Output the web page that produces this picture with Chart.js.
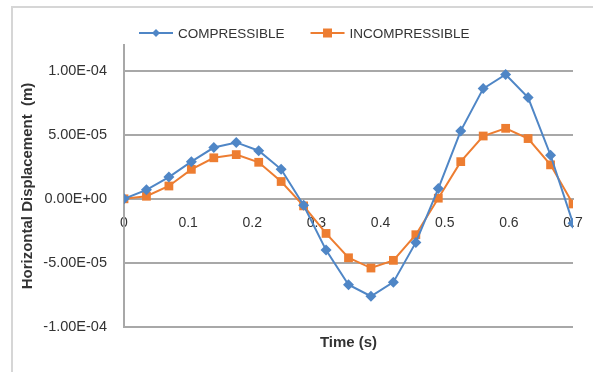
<!DOCTYPE html>
<html>
<head>
<meta charset="utf-8">
<script src="https://cdn.jsdelivr.net/npm/chart.js"></script>
<style>
  html, body { margin: 0; padding: 0; background: #fff; overflow: hidden; }
  #wrap { position: relative; width: 593px; height: 372px; }
  #frame { position: absolute; left: 11px; top: 6px; width: 700px; height: 500px; border: 2px solid #d6d6d6; box-sizing: border-box; }
  #chart { position: absolute; left: 0; top: 0; }
</style>
</head>
<body>
<div id="wrap">
  <div id="frame"></div>
  <canvas id="chart" width="593" height="372"></canvas>
</div>
<script>
// Time (s)
var times = [0, 0.035, 0.07, 0.105, 0.14, 0.175, 0.21, 0.245, 0.28, 0.315, 0.35,
             0.385, 0.42, 0.455, 0.49, 0.525, 0.56, 0.595, 0.63, 0.665, 0.7];
// Horizontal displacement (m)
var compressible = [0, 0.7e-5, 1.7e-5, 2.9e-5, 4.0e-5, 4.4e-5, 3.75e-5, 2.3e-5, -0.5e-5, -4.0e-5, -6.7e-5,
                    -7.6e-5, -6.5e-5, -3.4e-5, 0.8e-5, 5.3e-5, 8.6e-5, 9.7e-5, 7.9e-5, 3.4e-5, -1.9e-5];
var incompressible = [0, 0.2e-5, 1.0e-5, 2.3e-5, 3.2e-5, 3.45e-5, 2.85e-5, 1.35e-5, -0.55e-5, -2.7e-5, -4.6e-5,
                      -5.4e-5, -4.8e-5, -2.8e-5, 0.05e-5, 2.9e-5, 4.9e-5, 5.5e-5, 4.7e-5, 2.65e-5, -0.4e-5];

var xTicks = [0, 0.1, 0.2, 0.3, 0.4, 0.5, 0.6, 0.7];
var yTicks = [-1e-4, -5e-5, 0, 5e-5, 1e-4];

var BLUE = '#4f86c6';
var ORANGE = '#ed7d31';
var GRID = '#a8a8a8';
var TEXT = '#333333';
var FONT = "'Liberation Sans', Arial, sans-serif";

function sci(v) {
    if (v === 0) return '0.00E+00';
    var e = Math.floor(Math.log10(Math.abs(v)) + 1e-9);
    var m = v / Math.pow(10, e);
    return m.toFixed(2) + 'E' + (e < 0 ? '-' : '+') + String(Math.abs(e)).padStart(2, '0');
}

function toPoints(arr) {
    return arr.map(function(v, i) { return { x: times[i], y: v }; });
}

// legend drawn on top, line + marker + label like Excel
var legendPlugin = {
    id: 'excelLegend',
    afterDraw: function(chart) {
        var ctx = chart.ctx;
        var x = 139, y = 33;
        ctx.save();
        ctx.font = '13.5px ' + FONT;
        ctx.textBaseline = 'middle';
        chart.data.datasets.forEach(function(ds) {
            ctx.strokeStyle = ds.borderColor;
            ctx.lineWidth = 2;
            ctx.beginPath();
            ctx.moveTo(x, y);
            ctx.lineTo(x + 34, y);
            ctx.stroke();
            var cx = x + 17;
            ctx.fillStyle = ds.borderColor;
            ctx.beginPath();
            if (ds.pointStyle === 'rectRot') {
                ctx.moveTo(cx - 4, y); ctx.lineTo(cx, y - 4); ctx.lineTo(cx + 4, y); ctx.lineTo(cx, y + 4);
                ctx.closePath();
            } else {
                ctx.rect(cx - 4.5, y - 4.5, 9, 9);
            }
            ctx.fill();
            ctx.fillStyle = TEXT;
            ctx.fillText(ds.label, x + 39, y + 1);
            x += 39 + ctx.measureText(ds.label).width + 26;
        });
        ctx.restore();
    }
};

new Chart(document.getElementById('chart'), {
    type: 'line',
    data: {
        datasets: [
            {
                label: 'COMPRESSIBLE',
                data: toPoints(compressible),
                borderColor: BLUE,
                backgroundColor: BLUE,
                borderWidth: 2,
                pointStyle: 'rectRot',
                pointRadius: 5.5,
                pointBorderWidth: 0,
                tension: 0
            },
            {
                label: 'INCOMPRESSIBLE',
                data: toPoints(incompressible),
                borderColor: ORANGE,
                backgroundColor: ORANGE,
                borderWidth: 2,
                pointStyle: 'rect',
                pointRadius: 6.2,
                pointBorderWidth: 0,
                tension: 0
            }
        ]
    },
    options: {
        responsive: false,
        animation: false,
        devicePixelRatio: 1,
        layout: { padding: { left: 0, right: 20, top: 45, bottom: 0 } },
        plugins: {
            legend: { display: false },
            tooltip: { enabled: false }
        },
        scales: {
            x: {
                type: 'linear',
                min: 0,
                max: 0.7,
                position: { y: 0 },
                afterBuildTicks: function(s) { s.ticks = xTicks.map(function(v) { return { value: v }; }); },
                afterFit: function(s) { s.height = 0; s.paddingLeft = 0; s.paddingRight = 0; },
                grid: { display: false, drawTicks: false },
                border: { display: true, color: GRID, width: 2 },
                ticks: {
                    padding: 16,
                    color: TEXT,
                    font: { family: FONT, size: 14 },
                    maxRotation: 0,
                    callback: function(v) { return v === 0 ? '0' : v.toFixed(1); }
                }
            },
            xt: {
                type: 'linear',
                axis: 'x',
                min: 0,
                max: 0.7,
                position: 'bottom',
                grid: { display: false, drawTicks: false },
                border: { display: false },
                ticks: { display: false },
                afterFit: function(s) { s.height = 45; },
                title: {
                    display: true,
                    text: 'Time (s)',
                    color: TEXT,
                    font: { family: FONT, size: 15, weight: 'bold' },
                    padding: { top: 20, bottom: 20 }
                }
            },
            y: {
                min: -1e-4,
                max: 1.2e-4,
                afterBuildTicks: function(s) { s.ticks = yTicks.map(function(v) { return { value: v }; }); },
                afterFit: function(s) { s.width = 124; },
                grid: { color: GRID, lineWidth: 2, drawTicks: false },
                border: { display: true, color: GRID, width: 2 },
                ticks: {
                    padding: 17,
                    color: TEXT,
                    font: { family: FONT, size: 14.5 },
                    callback: function(v) { return sci(v); }
                },
                title: {
                    display: true,
                    text: 'Horizontal Displacement  (m)',
                    color: TEXT,
                    font: { family: FONT, size: 15, weight: 'bold' },
                    padding: { top: 19, bottom: 19 }
                }
            }
        }
    },
    plugins: [legendPlugin]
});
</script>
</body>
</html>
